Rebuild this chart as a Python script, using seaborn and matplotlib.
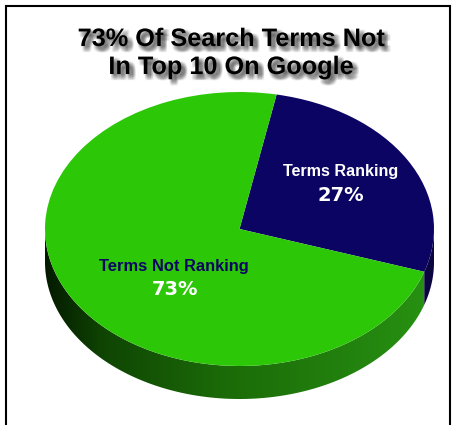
import numpy as np
import matplotlib
matplotlib.use("Agg")
import matplotlib.pyplot as plt
import matplotlib.patheffects as pe
from matplotlib.patches import Polygon, Rectangle
from matplotlib.colors import LinearSegmentedColormap
import seaborn as sns

# ---- data ----
labels = ["Terms Ranking", "Terms Not Ranking"]
values = [27, 73]
pct_labels = ["27%", "73%"]
title_lines = ["73% Of Search Terms Not", "In Top 10 On Google"]

sns.set_theme(style="white")
plt.rcParams["font.family"] = ["Liberation Sans", "DejaVu Sans"]

W, H = 456, 425
fig = plt.figure(figsize=(W / 100, H / 100), dpi=100)
fig.patch.set_facecolor("white")
ax = fig.add_axes([0, 0, 1, 1])

top_colors = ["#0b0462", "#2cc808"]
side_blue = "#0a0440"
start = 79
cx, cy, rx, ry = 239.5, 229.0, 194.5, 137.0
depth = 33.0 / ry

wedges, _ = ax.pie(values, colors=top_colors, startangle=start, counterclock=False,
                   wedgeprops=dict(linewidth=0, antialiased=True))
for w in wedges:
    w.set_zorder(5)

# boundary angle between slices (derived from data)
b = start - 360.0 * values[0] / sum(values)
t_split = 360.0 + b


def side_poly(t1, t2):
    t = np.radians(np.linspace(t1, t2, 200))
    top = np.column_stack([np.cos(t), np.sin(t)])
    bot = np.column_stack([np.cos(t[::-1]), np.sin(t[::-1]) - depth])
    return np.vstack([top, bot])


green_side = Polygon(side_poly(180, t_split), closed=True, facecolor="none",
                     edgecolor="none", transform=ax.transData)
ax.add_patch(green_side)
cmap = LinearSegmentedColormap.from_list(
    "side", [(0.0, "#041a00"), (0.15, "#0f4503"), (0.45, "#1b6a08"), (1.0, "#279212")])
grad = np.linspace(0, 1, 512).reshape(1, -1)
im = ax.imshow(grad, extent=[-1, 1, -1 - depth, 0.05], cmap=cmap, aspect="auto",
               zorder=2, interpolation="bilinear")
im.set_clip_path(green_side)

blue_side = Polygon(side_poly(t_split, 360), closed=True, facecolor=side_blue,
                    edgecolor="none", zorder=2, transform=ax.transData)
ax.add_patch(blue_side)

# map the unit pie onto an ellipse in pixel space
ax.set_aspect("auto")
ax.set_xlim(-cx / rx, (W - cx) / rx)
ax.set_ylim((cy - H) / ry, cy / ry)
ax.axis("off")


def fx(px):
    return px / W


def fy(py):
    return 1 - py / H


# title with soft blurred shadow
shadow = []
for dx in [0.8, 1.7, 2.6, 3.5, 4.4]:
    for dy in [0.8, 1.7, 2.6, 3.5, 4.4]:
        shadow.append(pe.SimplePatchShadow(offset=(dx, -dy), shadow_rgbFace="#202020",
                                           alpha=0.05))
shadow.append(pe.Normal())
for line, py in zip(title_lines, [46, 74]):
    fig.text(fx(231), fy(py), line, ha="center", va="baseline", fontsize=18.2,
             fontweight="bold", color="black", path_effects=shadow)

# slice labels
fig.text(fx(340.5), fy(176), labels[0], ha="center", va="baseline", fontsize=11.6,
         fontweight="bold", color="white")
fig.text(fx(340.5), fy(201), pct_labels[0], ha="center", va="baseline", fontsize=14,
         fontweight="bold", color="white", family="DejaVu Sans")
fig.text(fx(173.5), fy(271), labels[1], ha="center", va="baseline", fontsize=11.9,
         fontweight="bold", color="#0b0462")
fig.text(fx(175), fy(295), pct_labels[1], ha="center", va="baseline", fontsize=14,
         fontweight="bold", color="white", family="DejaVu Sans")

# frame
fig.add_artist(Rectangle((fx(6), -0.05), fx(450) - fx(6), fy(6) + 0.05,
                         transform=fig.transFigure, fill=False, lw=1.5,
                         edgecolor="black"))

fig.savefig("out.png", dpi=100, facecolor="white")
